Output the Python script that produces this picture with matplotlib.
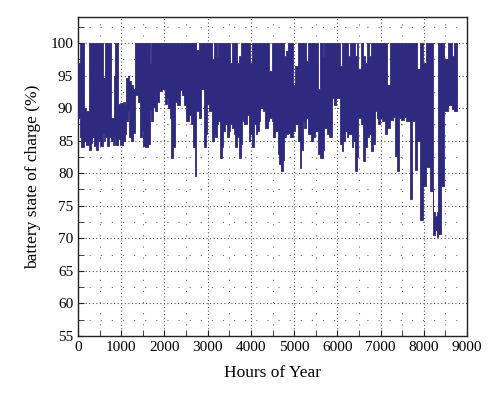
import matplotlib
matplotlib.use("Agg")
import matplotlib.pyplot as plt
from matplotlib.ticker import MultipleLocator

# Segments of the year: start hour, upper envelope (max SOC) and lower envelope (min SOC), in %
seg_start = [0, 40, 80, 139, 190, 247, 290, 330, 370, 420, 470, 520, 570, 600, 632, 680, 720,
             762, 800, 840, 862, 916, 970, 1030, 1080, 1109, 1150, 1186, 1230, 1280, 1325, 1380,
             1432, 1470, 1509, 1560, 1610, 1663, 1700, 1725, 1780, 1830, 1880, 1940, 2010, 2050,
             2090, 2130, 2163, 2200, 2240, 2300, 2360, 2410, 2450, 2510, 2560, 2610, 2664, 2700,
             2741, 2800, 2857, 2911, 2950, 2988, 3040, 3104, 3142, 3180, 3219, 3240, 3296, 3330,
             3358, 3400, 3450, 3490, 3512, 3565, 3600, 3643, 3681, 3720, 3760, 3797, 3850, 3900,
             3951, 3989, 4028, 4066, 4110, 4150, 4190, 4220, 4280, 4336, 4389, 4428, 4481, 4505,
             4560, 4620, 4660, 4700, 4740, 4759, 4812, 4851, 4900, 4966, 5030, 5082, 5130, 5170,
             5198, 5240, 5275, 5330, 5380, 5429, 5480, 5544, 5606, 5660, 5698, 5760, 5814, 5867,
             5920, 5980, 6060, 6100, 6137, 6175, 6230, 6252, 6290, 6329, 6370, 6406, 6445, 6483,
             6540, 6598, 6637, 6675, 6730, 6770, 6820, 6868, 6910, 6940, 6983, 7040, 7099, 7138,
             7215, 7280, 7330, 7369, 7422, 7480, 7540, 7600, 7677, 7738, 7792, 7854, 7908, 7985,
             8062, 8139, 8216, 8260, 8300, 8340, 8400, 8470, 8560, 8650, 8700]
seg_top = [97, 100, 100, 90, 89.6, 100, 100, 100, 100, 100, 100, 100, 94.7, 94.7, 100, 100, 100,
           88.5, 88.5, 95, 100, 90.6, 90.8, 91, 90.6, 94.7, 95, 94.2, 93.5, 93, 100, 100,
           100, 100, 100, 100, 100, 97, 100, 100, 100, 100, 100, 100, 100, 100,
           100, 100, 100, 100, 100, 100, 100, 100, 100, 100, 100, 100, 100, 100,
           99, 100, 100, 100, 100, 100, 100, 97.5, 100, 100, 98, 100, 100, 100,
           100, 100, 100, 100, 97, 100, 100, 100, 97, 98, 100, 100, 100, 100,
           100, 97, 100, 100, 100, 100, 100, 100, 100, 100, 100, 95.7, 100, 100,
           100, 100, 100, 100, 100, 98, 98.8, 100, 100, 93.5, 96.5, 100, 100, 100,
           100, 100, 97.3, 100, 100, 100, 100, 93, 100, 98, 100, 100, 100, 100,
           100, 100, 96.5, 100, 100, 100, 100, 98, 100, 100, 100, 98, 100, 96,
           100, 98, 97, 100, 98, 100, 100, 100, 100, 100, 100, 100, 100, 93.5,
           100, 100, 100, 100, 100, 100, 100, 100, 100, 100, 100, 96, 100, 97,
           100, 100, 74, 73.5, 74, 100, 100, 97.5, 100, 98, 100]
seg_bottom = [88.5, 85.5, 84, 85, 84.4, 83.5, 84.6, 85.5, 84.2, 83.6, 85, 84.2, 86, 85, 85.5, 84.2, 85.6,
              85, 84.3, 85.5, 84.4, 85.2, 84.4, 85, 86, 88, 89.5, 85.5, 85, 86.2, 92, 91,
              85.5, 86.5, 84.2, 84, 84.5, 89.6, 88, 90.2, 89.5, 91, 92.6, 93, 90.6, 91.5,
              90, 88.5, 82.4, 84, 91, 90.5, 92.8, 92, 90.5, 88, 89, 87.5, 84, 79.5,
              89.6, 88.5, 93, 84, 86, 90.6, 89.5, 85, 86, 85.5, 87.5, 88, 82.4, 84,
              86.5, 87.5, 85.5, 86.5, 87.5, 87, 86, 84, 85.5, 82.4, 84.5, 88, 87.5, 89,
              85, 86, 84, 87.5, 86, 86.5, 88, 90, 89.5, 87, 88, 88.5, 88, 85.5,
              86.5, 83, 81.4, 80.3, 82, 85.5, 86, 86.2, 85.5, 86.5, 87.5, 85, 80.8, 83.5,
              88, 87, 88.5, 86, 85, 85.5, 86.5, 82.9, 82.4, 83.5, 87, 86, 85.5, 91.6,
              90.5, 91.6, 84.5, 83.4, 85, 86.5, 85.5, 86, 86, 84, 85, 80.3, 82.5, 88.5,
              87.5, 81.9, 84, 85.5, 86, 83.4, 84.5, 89.6, 88.5, 87.6, 88.5, 88, 86, 87,
              88.2, 88.7, 82.6, 80.3, 88.5, 88.2, 88.6, 88, 76, 88, 80.5, 85, 72.8, 78,
              81, 77.3, 70.5, 71.2, 70.2, 70.6, 78, 89.5, 90.5, 89.8, 89.6]
end_hour = 8760

x_ticks = [0, 1000, 2000, 3000, 4000, 5000, 6000, 7000, 8000, 9000]
y_ticks = [55, 60, 65, 70, 75, 80, 85, 90, 95, 100]

plt.rcParams['font.family'] = ['Liberation Serif', 'DejaVu Serif']

fig = plt.figure(figsize=(5.0, 3.97), dpi=100)
ax = fig.add_axes([0.156, 0.154, 0.778, 0.803])

color = '#2e2a80'
xs = seg_start + [end_hour]
tops = seg_top + [seg_top[-1]]
bots = seg_bottom + [seg_bottom[-1]]
ax.fill_between(xs, bots, tops, step='post', color=color, linewidth=0.6,
                edgecolor=color, zorder=3)

ax.set_xlim(0, 9000)
ax.set_ylim(55, 104)
ax.set_xticks(x_ticks)
ax.set_yticks(y_ticks)
ax.xaxis.set_minor_locator(MultipleLocator(500))
ax.yaxis.set_minor_locator(MultipleLocator(2.5))
ax.tick_params(which='both', direction='in', top=False, right=False,
               labelsize=11, color='#222222')
ax.tick_params(which='major', length=4)
ax.tick_params(which='minor', length=4)

ax.grid(which='major', linestyle=(0, (1, 2.2)), linewidth=0.8, color='#555555', zorder=1)
ax.grid(which='minor', linestyle=(0, (1, 9)), linewidth=0.8, color='#666666', zorder=1)
ax.set_axisbelow(True)

for s in ax.spines.values():
    s.set_linewidth(1.0)
    s.set_color('#222222')

ax.set_xlabel('Hours of Year', fontsize=12.5, labelpad=8)
ax.set_ylabel('battery state of charge (%)', fontsize=12.5, labelpad=7)

fig.savefig('out.png', dpi=100)
